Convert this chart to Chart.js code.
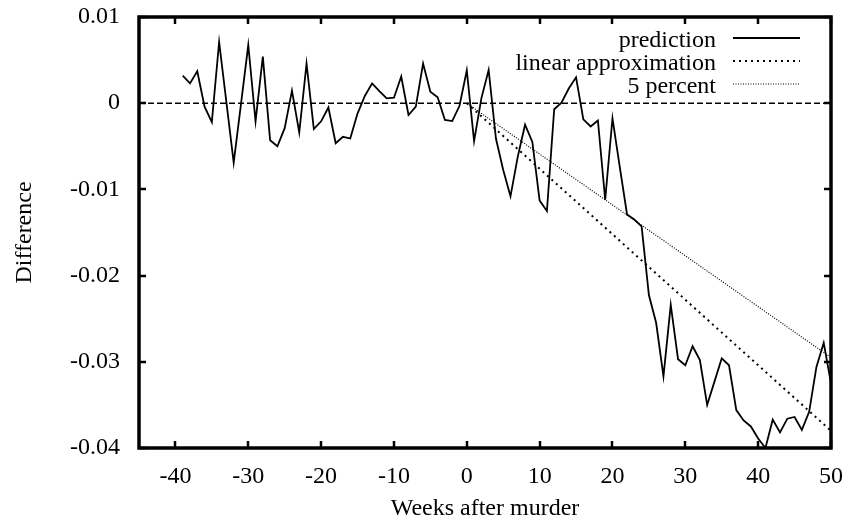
<!DOCTYPE html>
<html><head><meta charset="utf-8">
<script src="https://cdn.jsdelivr.net/npm/chart.js@4/dist/chart.umd.min.js"></script>
<style>html,body{margin:0;padding:0;background:#fff;}#wrap{width:848px;height:527px;}</style>
</head><body><div id="wrap"><canvas id="c" width="848" height="527"></canvas></div>
<script>
const weeks = [-39,-38,-37,-36,-35,-34,-33,-32,-31,-30,-29,-28,-27,-26,-25,-24,-23,-22,-21,-20,
  -19,-18,-17,-16,-15,-14,-13,-12,-11,-10,-9,-8,-7,-6,-5,-4,-3,-2,-1,0,
  1,2,3,4,5,6,7,8,9,10,11,12,13,14,15,16,17,18,19,20,
  21,22,23,24,25,26,27,28,29,30,31,32,33,34,35,36,37,38,39,40,
  41,42,43,44,45,46,47,48,49,50];
const prediction = [0.0032,0.0023,0.0037,-0.0004,-0.0022,0.0071,0.0001,-0.0069,-0.0001,0.00675,
  -0.0021,0.0054,-0.0043,-0.0050,-0.0029,0.00145,-0.0034,0.0046,-0.0030,-0.0021,
  -0.0005,-0.00465,-0.0039,-0.0041,-0.0012,0.00084,0.0023,0.0014,0.00056,0.00064,
  0.0031,-0.00137,-0.0004,0.0046,0.00134,0.00068,-0.00195,-0.00207,-0.0003,0.0038,
  -0.0044,0.00056,0.00385,-0.0041,-0.00775,-0.0108,-0.0062,-0.0025,-0.0045,-0.0113,
  -0.0125,-0.0007,0.00006,0.0017,0.0030,-0.00187,-0.0027,-0.0020,-0.0112,-0.00175,
  -0.0074,-0.0129,-0.0135,-0.0143,-0.02225,-0.0255,-0.0317,-0.0234,-0.0297,-0.0304,
  -0.0282,-0.0298,-0.0350,-0.0323,-0.0296,-0.0304,-0.0356,-0.0368,-0.0375,-0.0389,
  -0.0400,-0.0367,-0.0382,-0.0366,-0.0364,-0.0379,-0.0358,-0.0306,-0.0278,-0.0325];
const approxWeeks = [0, 50];
const linearApproximation = [0, -0.038];
const fivePercent = [0, -0.0295];
const zeroWeeks = [-45, 50];
const zeroLine = [0, 0];
const xTicks = [-40,-30,-20,-10,0,10,20,30,40,50];
const yTicks = [0.01,0,-0.01,-0.02,-0.03,-0.04];
const seriesLabels = ['prediction','linear approximation','5 percent'];

const FONT = '"Liberation Serif", "Times New Roman", serif';
const pts = (xs, ys) => xs.map((x,i)=>({x:x, y:ys[i]}));

const framePlugin = {
  id: 'frame',
  afterDraw(chart) {
    const ctx = chart.ctx, a = chart.chartArea;
    const xs = chart.scales.x, ys = chart.scales.y;
    ctx.save();
    ctx.strokeStyle = '#000';
    ctx.lineWidth = 2.5;
    ctx.setLineDash([]);
    const tl = 7;
    ctx.beginPath();
    xTicks.forEach(v => {
      const px = Math.round(xs.getPixelForValue(v));
      ctx.moveTo(px, a.bottom); ctx.lineTo(px, a.bottom - tl);
      ctx.moveTo(px, a.top); ctx.lineTo(px, a.top + tl);
    });
    yTicks.forEach(v => {
      const py = Math.round(ys.getPixelForValue(v));
      ctx.moveTo(a.left, py); ctx.lineTo(a.left + tl, py);
      ctx.moveTo(a.right, py); ctx.lineTo(a.right - tl, py);
    });
    ctx.stroke();
    ctx.lineWidth = 3.5;
    ctx.strokeRect(a.left, a.top, a.right - a.left, a.bottom - a.top);
    // legend
    ctx.font = '24px ' + FONT;
    ctx.fillStyle = '#000';
    ctx.textAlign = 'right';
    ctx.textBaseline = 'middle';
    const rows = [40, 63, 86];
    for (let i = 0; i < 3; i++) {
      const ds = chart.data.datasets[i];
      ctx.fillText(ds.label, 716, rows[i] + 1);
      ctx.beginPath();
      ctx.lineWidth = ds.borderWidth;
      ctx.setLineDash(ds.borderDash || []);
      ctx.moveTo(733, rows[i] - 2); ctx.lineTo(800, rows[i] - 2);
      ctx.stroke();
    }
    ctx.restore();
  }
};

new Chart(document.getElementById('c'), {
  type: 'line',
  data: {
    datasets: [
      { label: seriesLabels[0], data: pts(weeks, prediction), borderColor: '#000', borderWidth: 1.8,
        pointRadius: 0, tension: 0, fill: false },
      { label: seriesLabels[1], data: pts(approxWeeks, linearApproximation), borderColor: '#000', borderWidth: 2,
        borderDash: [2,4], pointRadius: 0, fill: false },
      { label: seriesLabels[2], data: pts(approxWeeks, fivePercent), borderColor: '#000', borderWidth: 1.2,
        borderDash: [1,1.5], pointRadius: 0, fill: false },
      { label: 'zero', data: pts(zeroWeeks, zeroLine), borderColor: '#000', borderWidth: 1.6,
        borderDash: [6,3], pointRadius: 0, fill: false }
    ]
  },
  options: {
    responsive: false,
    animation: false,
    devicePixelRatio: 1,
    layout: { padding: { left: 0, right: 17, top: 17, bottom: 0 } },
    plugins: { legend: { display: false }, tooltip: { enabled: false } },
    scales: {
      x: {
        type: 'linear', min: -45, max: 50,
        afterBuildTicks: s => { s.ticks = xTicks.map(v => ({value: v})); },
        afterFit: s => { s.height = 79; s.paddingLeft = 0; s.paddingRight = 0; },
        grid: { display: false, drawTicks: false },
        border: { display: false },
        ticks: { color: '#000', font: { family: FONT, size: 24 }, padding: 14, maxRotation: 0,
          callback: v => String(v) },
        title: { display: true, text: 'Weeks after murder', color: '#000',
          font: { family: FONT, size: 24 }, padding: { top: 0, bottom: 4 } }
      },
      y: {
        type: 'linear', min: -0.04, max: 0.01,
        afterBuildTicks: s => { s.ticks = yTicks.map(v => ({value: v})); },
        afterFit: s => { s.width = 139; s.paddingTop = 0; s.paddingBottom = 0; },
        grid: { display: false, drawTicks: false },
        border: { display: false },
        ticks: { color: '#000', font: { family: FONT, size: 24 }, padding: 19,
          callback: v => (Math.abs(v) < 1e-9 ? '0' : v.toFixed(2)) },
        title: { display: true, text: 'Difference', color: '#000',
          font: { family: FONT, size: 24 }, padding: { top: 10, bottom: 0 } }
      }
    }
  },
  plugins: [framePlugin]
});
</script>
</body></html>
